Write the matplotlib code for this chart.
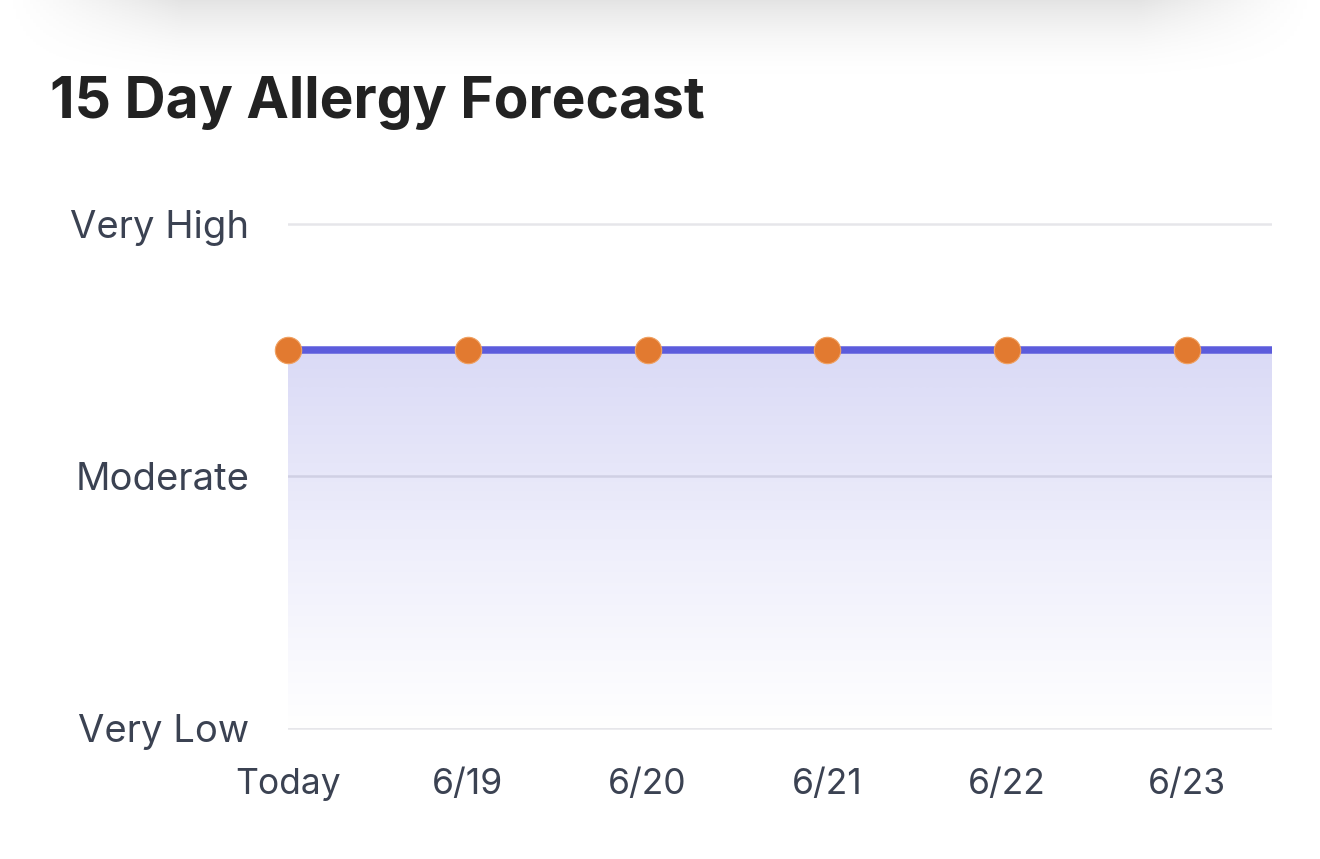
import numpy as np
import matplotlib
matplotlib.use('Agg')
import matplotlib.pyplot as plt
from matplotlib.colors import LinearSegmentedColormap

# forecast data (0 = Very Low, 2 = Moderate, 4 = Very High)
days = ['Today', '6/19', '6/20', '6/21', '6/22', '6/23', '6/24']
levels = [3, 3, 3, 3, 3, 3, 3]
level_ticks = [0, 2, 4]
level_labels = ['Very Low', 'Moderate', 'Very High']

plt.rcParams['font.family'] = ['Inter', 'DejaVu Sans']

W, H = 1320, 859
fig = plt.figure(figsize=(W / 100, H / 100), dpi=100)
fig.patch.set_facecolor('white')

# card shadow at the top
bg = fig.add_axes([0, 0, 1, 1], zorder=0)
bg.set_axis_off()
bg.set_xlim(0, W); bg.set_ylim(H, 0)
yy = np.linspace(0, 100, 100)[:, None]
xx = np.linspace(0, W, 400)[None, :]
fade_y = np.clip(1 - yy / 95, 0, 1) ** 2.2
fade_x = np.clip(np.minimum(xx, W - xx) / 180, 0, 1) ** 1.2
shade = fade_y * fade_x * 0.11
rgba = np.zeros((100, 400, 4))
rgba[..., 3] = shade
bg.imshow(rgba, extent=[0, W, 100, 0], aspect='auto')

x = np.arange(len(days))
xmax = 5.473
pad = 0.1
px_unit = 504 / 4
left = 288 / W
right = 1272 / W
bottom = 1 - (728 + pad * px_unit) / H
top = 1 - (224 - pad * px_unit) / H
ax = fig.add_axes([left, bottom, right - left, top - bottom], zorder=1)
ax.patch.set_alpha(0)
ax.set_xlim(0, xmax)
ax.set_ylim(-pad, 4 + pad)

# gridlines
for t in level_ticks:
    ax.axhline(t, color='#e6e6ea', lw=1.8, zorder=1)

# gradient fill under the line
cmap = LinearSegmentedColormap.from_list('fill', ['#ffffff', '#eeeefb', '#dadaf6'])
grad = np.linspace(0, 1, 256)[:, None]
im = ax.imshow(grad, extent=[0, xmax, 0, max(levels)], origin='lower', aspect='auto',
               cmap=cmap, zorder=2, interpolation='bicubic')
poly = ax.fill_between(x, levels, 0, color='none', lw=0)
im.set_clip_path(poly.get_paths()[0], transform=ax.transData)
ax.axhline(2, color='#d0d0e4', lw=1.8, zorder=3)

ax.plot(x, levels, color='#5c5cdc', lw=5.4, zorder=4, solid_capstyle='butt')
vis = x <= xmax
ax.plot(x[vis], np.array(levels)[vis], 'o', color='#e27a30', ms=19,
        mec='#f0a060', mew=0.8, zorder=5, clip_on=False)

ax.set_xticks(x[vis])
ax.set_xticklabels([d for d, v in zip(days, vis) if v])
ax.set_yticks(level_ticks)
ax.set_yticklabels(level_labels)
ax.tick_params(length=0, labelcolor='#3b4252')
ax.tick_params(axis='x', pad=20, labelsize=25.5)
ax.tick_params(axis='y', pad=28, labelsize=27.5)
for s in ax.spines.values():
    s.set_visible(False)

fig.text(50 / W, 1 - 118 / H, '15 Day Allergy Forecast', fontsize=41,
         fontweight='bold', color='#222222', ha='left', va='baseline')

fig.savefig('out.png', dpi=100, facecolor='white')
